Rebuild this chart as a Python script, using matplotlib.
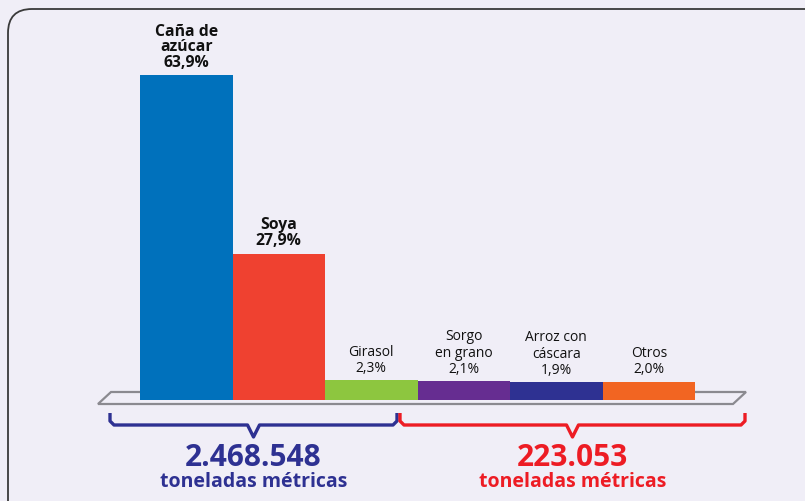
import matplotlib.pyplot as plt
from matplotlib.patches import FancyBboxPatch, Polygon
import numpy as np

# data
categorias = ["Caña de\nazúcar", "Soya", "Girasol", "Sorgo\nen grano", "Arroz con\ncáscara", "Otros"]
porcentajes = [63.9, 27.9, 2.3, 2.1, 1.9, 2.0]
colores = ["#0071bc", "#ef4130", "#8dc63f", "#662d91", "#2e3192", "#f26522"]
destacados = [True, True, False, False, False, False]

grupos_total = ["2.468.548", "223.053"]
grupos_color = ["#2e3192", "#ed1c24"]
unidad = "toneladas métricas"

fondo = "#f0eef7"
plt.rcParams['font.family'] = ['Open Sans', 'DejaVu Sans']

W, H = 805, 501
fig = plt.figure(figsize=(W / 100, H / 100), dpi=100, facecolor=fondo)

# decoration layer in pixel coords (origin top-left)
deco = fig.add_axes([0, 0, 1, 1], zorder=0)
deco.set_xlim(0, W)
deco.set_ylim(H, 0)
deco.axis('off')

# rounded frame
frame = FancyBboxPatch((8, 9), 830, 520, boxstyle="round,pad=0,rounding_size=24",
                       fc=fondo, ec="#3a3a3a", lw=1.3)
deco.add_patch(frame)

# platform under the bars
base = Polygon([(111, 392), (746, 392), (733, 404), (98, 404)], closed=True,
               fc=fondo, ec="#8b8a90", lw=1.6)
deco.add_patch(base)

# braces
def llave(x0, x1, y_top, y_line, y_tip, color):
    xm = (x0 + x1) / 2
    r = 4
    xs = [x0, x0, x0 + r, xm - 6, xm, xm + 6, x1 - r, x1, x1]
    ys = [y_top, y_line - r, y_line, y_line, y_tip, y_line, y_line, y_line - r, y_top]
    deco.plot(xs, ys, color=color, lw=2.4, solid_joinstyle='round', solid_capstyle='butt')
    return xm

llaves = [(110, 397), (400, 745)]
for (x0, x1), tot, col in zip(llaves, grupos_total, grupos_color):
    xm = llave(x0, x1, 413, 425, 437, col)
    deco.text(xm, 458, tot, color=col, fontsize=21.5, fontweight='bold', ha='center', va='center')
    deco.text(xm, 482, unidad, color=col, fontsize=14, fontweight='bold', ha='center', va='center')

# bars layer
ax = fig.add_axes([0, 0, 1, 1], zorder=1)
ax.patch.set_alpha(0)
ax.axis('off')
px_x = 92.5   # pixels per category
px_y = 4.95   # pixels per percent
base_off = 1.66
x = np.arange(len(categorias))
ax.set_xlim(-0.5 - 140 / px_x, -0.5 + (W - 140) / px_x)
ax.set_ylim(-base_off - 101 / px_y, -base_off + 400 / px_y)

ax.bar(x, np.array(porcentajes) + base_off, bottom=-base_off, width=1.0, color=colores, linewidth=0)

for i, (cat, p, bold) in enumerate(zip(categorias, porcentajes, destacados)):
    txt = f"{cat}\n{p:.1f}%".replace(".", ",")
    ax.text(i, p + 0.9, txt, ha='center', va='bottom',
            linespacing=0.98 if bold else 1.12,
            fontsize=11.3 if bold else 10, fontweight='bold' if bold else 'normal',
            color="#111111")

fig.savefig("out.png", dpi=100, facecolor=fondo)
